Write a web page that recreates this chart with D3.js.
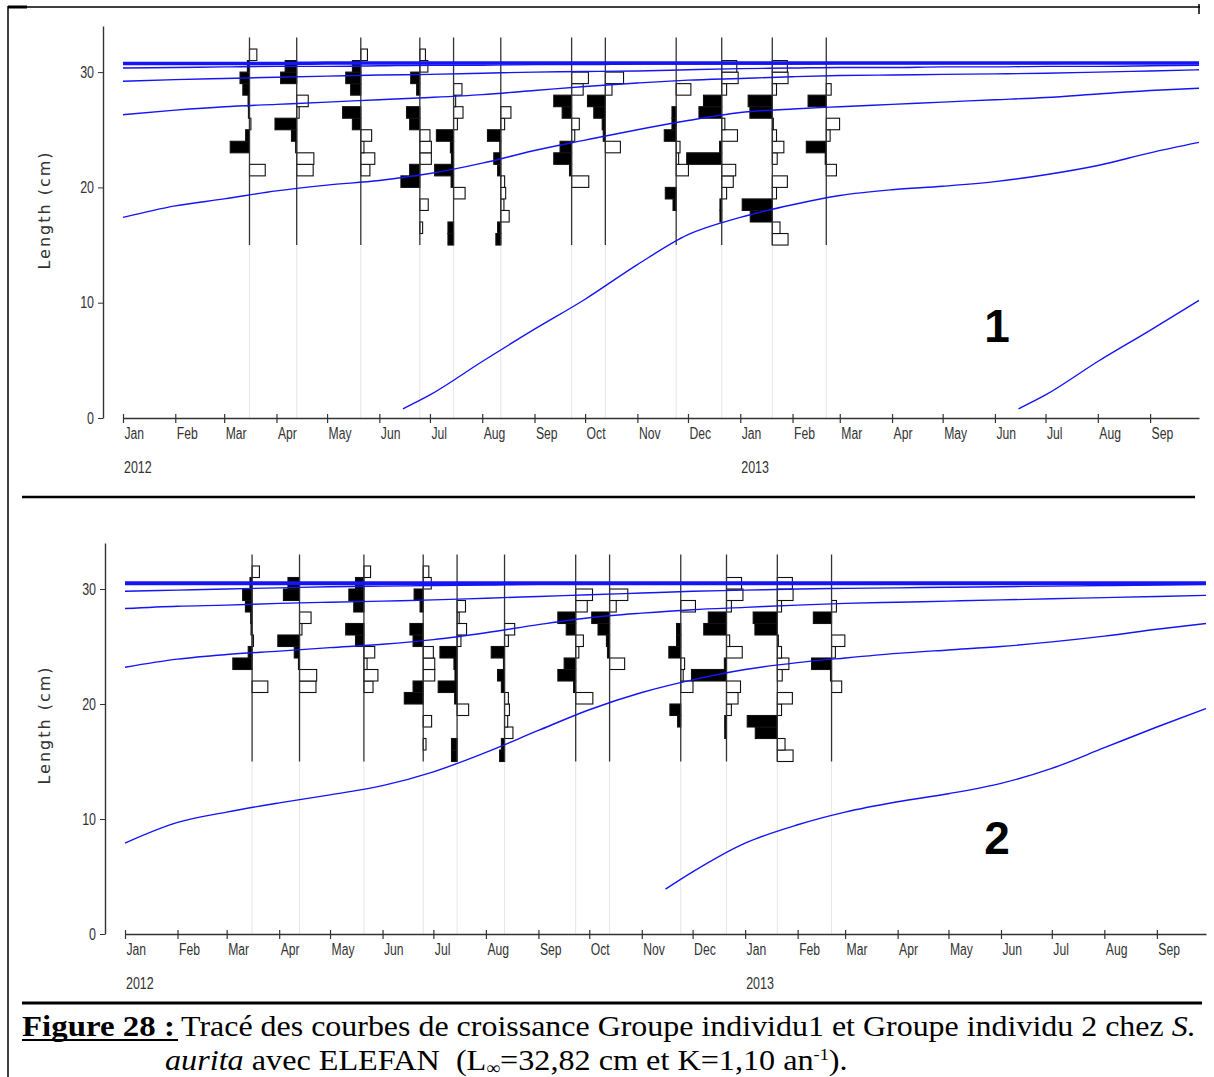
<!DOCTYPE html>
<html>
<head>
<meta charset="utf-8">
<script src="https://cdn.jsdelivr.net/npm/d3@7"></script>
<style>
  body { margin: 0; background: #fff; }
  svg { display: block; }
</style>
</head>
<body>
<svg id="fig" width="1214" height="1077"></svg>
<script>
// ---- data ----
var monthLabels = ["Jan","Feb","Mar","Apr","May","Jun","Jul","Aug","Sep","Oct","Nov","Dec",
                   "Jan","Feb","Mar","Apr","May","Jun","Jul","Aug","Sep"];
var yearLabels = ["2012", "2013"];
var yearDates = ["2012-01-01", "2013-01-01"];
var yTicks = [0, 10, 20, 30];

// sampling dates (one restructured histogram per date)
var sampleDates = ["2012-03-16","2012-04-13","2012-05-21","2012-06-25","2012-07-15","2012-08-12",
                   "2012-09-23","2012-10-13","2012-11-24","2012-12-21","2013-01-20","2013-02-21"];
// length classes (lower bound, cm), 1 cm wide
var binLower = [15,16,17,18,19,20,21,22,23,24,25,26,27,28,29,30,31,32];
// restructured scores per sample, one per class (positive = black peak, negative = white trough)
var scores = [
  [0,0,0,0,0,0,-0.45,0,0.55,0.11,-0.04,0.03,0.04,0.19,0.27,0.06,-0.21,0],
  [0,0,0,0,0,0,-0.47,-0.49,0.03,0.15,0.62,-0.07,-0.33,0,0.46,0.33,0,0],
  [0,0,0,0,0,0,-0.26,-0.40,-0.09,-0.31,0.24,0.52,0,0.29,0.43,0.24,-0.19,0],
  [0,-0.08,0,-0.24,0,0.54,0.29,-0.33,-0.33,-0.29,0.29,0.38,0,0.09,0.26,-0.23,-0.16,0],
  [0.16,0.16,0,0,-0.33,0.07,0.54,0.06,0.09,0.49,-0.11,-0.27,-0.06,-0.24,0,0,0,0],
  [0.14,0.09,-0.24,-0.09,-0.14,-0.11,0.09,0.20,0.03,0.38,-0.11,-0.29,0,0,0,0,0,0],
  [0,0,0,0,0,-0.49,0.06,0.51,0.33,-0.09,-0.22,0.27,0.51,-0.33,-0.48,0,0,0],
  [0,0,0,0,0,0,0,0,-0.43,0.06,0.09,0.33,0.51,-0.19,-0.52,0,0,0],
  [0,0,0,0.09,0.31,0,-0.35,-0.07,-0.11,0.34,0.12,0.12,0,-0.42,0,0,0,0],
  [0,0,0.05,0.05,-0.14,-0.33,-0.40,1.0,0.06,-0.45,-0.09,0.65,0.52,-0.14,-0.47,-0.43,0,0],
  [-0.45,-0.22,0.63,0.86,-0.12,-0.43,0,-0.14,-0.33,-0.12,-0.03,0.64,0.69,-0.12,-0.45,-0.43,0,0],
  [0,0,0,0,0,0,-0.29,0.03,0.57,-0.11,-0.38,0,0.52,-0.14,0,0,0,0]
];

// growth curves, read at the start of each month (cm)
var monthDates = ["2012-01-01","2012-02-01","2012-03-01","2012-04-01","2012-05-01","2012-06-01",
                  "2012-07-01","2012-08-01","2012-09-01","2012-10-01","2012-11-01","2012-12-01",
                  "2013-01-01","2013-02-01","2013-03-01","2013-04-01","2013-05-01","2013-06-01",
                  "2013-07-01","2013-08-01","2013-09-01","2013-09-30"];

// panel 1
var top_a = [30.75,30.75,30.75,30.75,30.8,30.8,30.8,30.8,30.8,30.8,30.8,30.8,30.8,30.8,30.8,30.8,30.8,30.8,30.8,30.8,30.8,30.8];
var top_b = [30.35,30.4,30.45,30.5,30.5,30.55,30.6,30.6,30.65,30.65,30.7,30.7,30.7,30.7,30.75,30.75,30.75,30.75,30.75,30.8,30.8,30.8];
var top_c = [29.2,29.35,29.45,29.55,29.65,29.75,29.8,29.9,30.0,30.05,30.1,30.2,30.3,30.35,30.4,30.4,30.45,30.45,30.5,30.5,30.55,30.6];
var top_d = [26.3,26.7,27.0,27.2,27.4,27.6,27.8,28.05,28.4,28.75,29.05,29.3,29.45,29.6,29.7,29.75,29.8,29.85,29.9,30.0,30.1,30.2];
var top_e = [17.4,18.4,19.0,19.7,20.2,20.6,21.2,22.1,23.2,24.1,25.0,25.8,26.5,26.8,27.0,27.2,27.4,27.6,27.8,28.1,28.4,28.6];
var top_f_dates = ["2012-06-15","2012-07-01","2012-08-01","2012-09-01","2012-10-01","2012-11-01","2012-12-01",
                   "2013-01-01","2013-02-01","2013-03-01","2013-04-01","2013-05-01","2013-06-01","2013-07-01",
                   "2013-08-01","2013-09-01","2013-09-30"];
var top_f = [0.8,2.0,4.9,7.7,10.3,13.3,15.9,17.4,18.5,19.3,19.8,20.1,20.5,21.1,21.9,23.0,23.9];
var top_g_dates = ["2013-06-15","2013-07-01","2013-08-01","2013-09-01","2013-09-30"];
var top_g = [0.8,2.0,4.9,7.6,10.2];

// panel 2
var bot_a = [30.5,30.5,30.5,30.5,30.5,30.5,30.5,30.5,30.5,30.5,30.5,30.5,30.5,30.5,30.5,30.5,30.5,30.5,30.5,30.5,30.5,30.5];
var bot_b = [29.8,29.9,30.0,30.1,30.2,30.25,30.3,30.35,30.4,30.4,30.45,30.45,30.45,30.45,30.45,30.5,30.5,30.5,30.5,30.5,30.5,30.5];
var bot_c = [28.3,28.5,28.6,28.75,28.85,28.95,29.05,29.2,29.35,29.5,29.65,29.8,29.9,30.0,30.05,30.1,30.15,30.2,30.25,30.3,30.35,30.4];
var bot_d = [23.2,23.9,24.3,24.6,24.9,25.2,25.6,26.2,26.9,27.5,27.9,28.2,28.4,28.6,28.75,28.85,28.95,29.05,29.15,29.25,29.35,29.45];
var bot_e = [7.9,9.7,10.6,11.4,12.1,12.9,14.1,15.8,17.7,19.5,21.0,22.1,23.0,23.6,24.0,24.4,24.7,25.0,25.4,25.9,26.5,27.0];
var bot_f_dates = ["2012-11-15","2012-12-01","2013-01-01","2013-02-01","2013-03-01","2013-04-01","2013-05-01",
                   "2013-06-01","2013-07-01","2013-08-01","2013-09-01","2013-09-30"];
var bot_f = [3.9,5.4,7.9,9.5,10.6,11.5,12.2,13.1,14.4,16.2,18.0,19.6];

// ---- drawing ----
var parse = d3.utcParse("%Y-%m-%d");
var svg = d3.select("#fig");
var blue = "#1414f5";
var narrow = "'Liberation Sans', Arial, sans-serif";

function pairs(dates, vals) {
  return dates.map(function(d, i) { return [parse(d), vals[i]]; });
}

// squeeze a text horizontally around its anchor point
function squeeze(sel, sx) {
  sel.each(function() {
    var t = d3.select(this);
    var x0 = +t.attr("x") || 0;
    t.attr("transform", `translate(${x0},0) scale(${sx},1) translate(${-x0},0)`);
  });
}

var panels = [
  { x0: 123, x1: 1199, yAxisX: 103, yZero: 418, pxCm: 11.53, num: "1", numY: 325, labelY: 210,
    curves: [
      { pts: pairs(monthDates, top_a), w: 3.5 },
      { pts: pairs(monthDates, top_b), w: 1.4 },
      { pts: pairs(monthDates, top_c), w: 1.4 },
      { pts: pairs(monthDates, top_d), w: 1.4 },
      { pts: pairs(monthDates, top_e), w: 1.4 },
      { pts: pairs(top_f_dates, top_f), w: 1.4 },
      { pts: pairs(top_g_dates, top_g), w: 1.4 }
    ] },
  { x0: 125, x1: 1206, yAxisX: 105, yZero: 934, pxCm: 11.5, num: "2", numY: 837, labelY: 725,
    curves: [
      { pts: pairs(monthDates, bot_a), w: 4 },
      { pts: pairs(monthDates, bot_b), w: 1.4 },
      { pts: pairs(monthDates, bot_c), w: 1.4 },
      { pts: pairs(monthDates, bot_d), w: 1.4 },
      { pts: pairs(monthDates, bot_e), w: 1.4 },
      { pts: pairs(bot_f_dates, bot_f), w: 1.4 }
    ] }
];

panels.forEach(function(p) {
  var g = svg.append("g");
  var x = d3.scaleUtc()
    .domain([parse("2012-01-01"), parse("2013-09-30")])
    .range([p.x0, p.x1]);
  var y = d3.scaleLinear()
    .domain([0, 34])
    .range([p.yZero, p.yZero - 34 * p.pxCm]);
  var barW = d3.scaleLinear().domain([0, 1]).range([0, 35]);

  // faint continuation of the sampling lines
  g.selectAll("line.faint")
    .data(sampleDates)
    .enter().append("line")
    .attr("x1", d => x(parse(d))).attr("x2", d => x(parse(d)))
    .attr("y1", y(15)).attr("y2", y(0))
    .attr("stroke", "#e6e6e6").attr("stroke-width", 1);

  // histograms
  sampleDates.forEach(function(sd, si) {
    var xs = x(parse(sd));
    var hg = g.append("g");
    hg.selectAll("rect")
      .data(scores[si].map((v, i) => ({ v: v, lo: binLower[i] })).filter(d => d.v !== 0))
      .enter().append("rect")
      .attr("x", d => d.v > 0 ? xs - barW(d.v) : xs)
      .attr("width", d => barW(Math.abs(d.v)))
      .attr("y", d => y(d.lo + 1))
      .attr("height", d => y(d.lo) - y(d.lo + 1))
      .attr("fill", d => d.v > 0 ? "#000" : "#fff")
      .attr("stroke", "#111").attr("stroke-width", 1.1);
    hg.append("line")
      .attr("x1", xs).attr("x2", xs)
      .attr("y1", y(33)).attr("y2", y(15))
      .attr("stroke", "#333").attr("stroke-width", 1.3);
  });

  // growth curves
  var line = d3.line()
    .x(d => x(d[0])).y(d => y(d[1]))
    .curve(d3.curveMonotoneX);
  p.curves.forEach(function(c) {
    g.append("path")
      .attr("d", line(c.pts))
      .attr("fill", "none")
      .attr("stroke", blue)
      .attr("stroke-width", c.w);
  });

  // y axis
  var yAxis = d3.axisLeft(y).tickValues(yTicks).tickSize(5).tickSizeOuter(0).tickPadding(4);
  var ya = g.append("g")
    .attr("transform", `translate(${p.yAxisX},0)`)
    .call(yAxis);
  ya.select(".domain").attr("stroke", "#333").attr("stroke-width", 1.4);
  ya.selectAll(".tick line").attr("stroke", "#333");
  ya.selectAll("text")
    .attr("font-family", narrow)
    .attr("font-size", 16).attr("fill", "#333")
    .call(squeeze, 0.78);

  // x axis
  var monthTicks = d3.utcMonths(parse("2012-01-01"), parse("2013-09-02"));
  var xAxis = d3.axisBottom(x)
    .tickValues(monthTicks)
    .tickFormat((d, i) => monthLabels[i])
    .tickSize(5).tickSizeOuter(0).tickPadding(5);
  var xa = g.append("g")
    .attr("transform", `translate(0,${p.yZero})`)
    .call(xAxis);
  xa.select(".domain").attr("stroke", "#333").attr("stroke-width", 1.6);
  xa.selectAll(".tick line").attr("y1", -4).attr("stroke", "#333").attr("stroke-width", 1.2);
  xa.selectAll(".tick text")
    .attr("text-anchor", "start").attr("x", 1).attr("dy", "0.71em")
    .attr("font-family", narrow)
    .attr("font-size", 16).attr("fill", "#333")
    .call(squeeze, 0.76);

  g.selectAll("text.year")
    .data(yearLabels)
    .enter().append("text")
    .attr("class", "year")
    .attr("x", (d, i) => x(parse(yearDates[i])) + 1)
    .attr("y", p.yZero + 55)
    .attr("font-family", narrow)
    .attr("font-size", 16).attr("fill", "#333")
    .text(d => d)
    .call(squeeze, 0.78);

  // axis title
  g.append("text")
    .attr("transform", `translate(50,${p.labelY}) rotate(-90)`)
    .attr("text-anchor", "middle")
    .attr("font-family", "'DejaVu Sans', sans-serif")
    .attr("font-size", 16).attr("letter-spacing", 2).attr("fill", "#333")
    .text("Length (cm)");

  // panel number
  g.append("text")
    .attr("x", 997).attr("y", p.numY + 17)
    .attr("text-anchor", "middle")
    .attr("font-family", "'Liberation Sans', Arial, sans-serif")
    .attr("font-weight", "bold").attr("font-size", 46)
    .text(p.num);
});

// ---- frame and separators ----
svg.append("line").attr("x1", 8).attr("x2", 1200).attr("y1", 7).attr("y2", 7)
  .attr("stroke", "#000").attr("stroke-width", 1.5);
svg.append("line").attr("x1", 8).attr("x2", 27).attr("y1", 7).attr("y2", 7)
  .attr("stroke", "#000").attr("stroke-width", 3);
svg.append("line").attr("x1", 8).attr("x2", 8).attr("y1", 6).attr("y2", 1077)
  .attr("stroke", "#000").attr("stroke-width", 1.5);
svg.append("line").attr("x1", 1199).attr("x2", 1199).attr("y1", 4).attr("y2", 14)
  .attr("stroke", "#000").attr("stroke-width", 1.5);
svg.append("line").attr("x1", 22).attr("x2", 1195).attr("y1", 497).attr("y2", 497)
  .attr("stroke", "#000").attr("stroke-width", 2.5);
svg.append("line").attr("x1", 22).attr("x2", 1202).attr("y1", 1003).attr("y2", 1003)
  .attr("stroke", "#000").attr("stroke-width", 3);

// ---- caption ----
var serif = "'Liberation Serif', 'Times New Roman', serif";
var capSize = 30;

function fitWidth(sel, x0, target) {
  var w = sel.node().getBBox().width;
  sel.attr("transform", `translate(${x0},0) scale(${target / w},1) translate(${-x0},0)`);
}

var fig = svg.append("text")
  .attr("x", 22).attr("y", 1036)
  .attr("font-family", serif).attr("font-size", capSize).attr("font-weight", "bold")
  .text("Figure 28 :");
fitWidth(fig, 22, 153);
svg.append("line").attr("x1", 22).attr("x2", 178)
  .attr("y1", 1040).attr("y2", 1040).attr("stroke", "#000").attr("stroke-width", 2);

var l1 = svg.append("text")
  .attr("x", 181).attr("y", 1036)
  .attr("font-family", serif).attr("font-size", capSize);
l1.append("tspan").text("Tracé des courbes de croissance Groupe individu1 et Groupe individu 2 chez ");
l1.append("tspan").attr("font-style", "italic").text("S.");
fitWidth(l1, 181, 1015);

var l2 = svg.append("text")
  .attr("x", 165).attr("y", 1070)
  .attr("font-family", serif).attr("font-size", capSize)
  .attr("xml:space", "preserve");
l2.append("tspan").attr("font-style", "italic").text("aurita");
l2.append("tspan").text(" avec ELEFAN  (L");
l2.append("tspan").attr("font-size", 18).attr("dy", 4).text("∞");
l2.append("tspan").attr("dy", -4).text("=32,82 cm et K=1,10 an");
l2.append("tspan").attr("font-size", 17).attr("dy", -10).text("-1");
l2.append("tspan").attr("dy", 10).text(").");
fitWidth(l2, 165, 683);
</script>
</body>
</html>
